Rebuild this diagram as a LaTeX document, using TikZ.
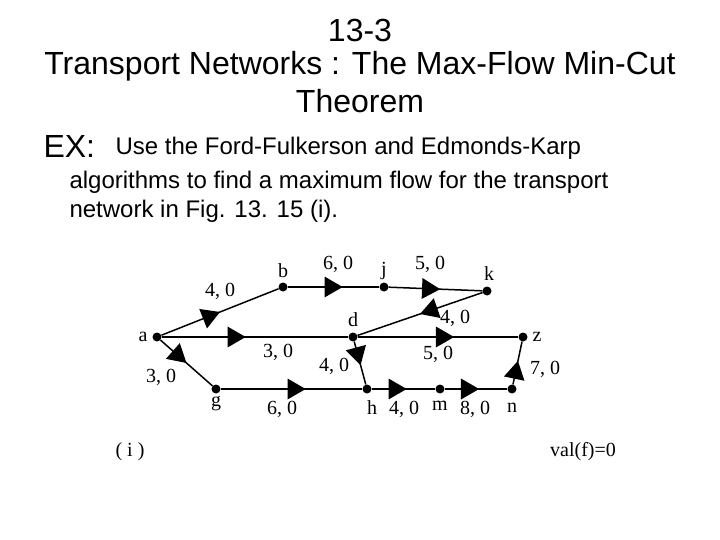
\documentclass[tikz,border=0pt]{standalone}
\usepackage{fontspec}
\setmainfont{Liberation Sans}
\newfontfamily\labfont{Liberation Serif}
\usetikzlibrary{arrows, decorations.markings}

\begin{document}
\begin{tikzpicture}[x=1pt,y=-1pt,
	vtx/.style={circle,fill=black,inner sep=0pt,minimum size=9pt},
	flow/.style={line width=1.5pt,postaction={decorate},
		decoration={markings,mark=at position #1 with {\arrow[scale=2]{triangle 60}}}},
	flow/.default=0.55,
	lab/.style={font=\labfont\fontsize{20}{20}\selectfont}]

	\useasboundingbox (0,0) rectangle (720,540);

	% heading
	\node[font=\fontsize{32}{32}\selectfont] (title1) at (360,30) {13-3};
	\node[font=\fontsize{32}{32}\selectfont] (title2) at (360,66) {Transport Networks : The Max-Flow Min-Cut};
	\node[font=\fontsize{32}{32}\selectfont] (title3) at (360,101) {Theorem};
	\node[font=\fontsize{32}{32}\selectfont,anchor=west] (ex) at (40,146) {EX:};
	\node[font=\fontsize{24}{24}\selectfont,anchor=west] (txt1) at (112,148) {Use the Ford-Fulkerson and Edmonds-Karp};
	\node[font=\fontsize{24}{24}\selectfont,anchor=west] (txt2) at (66,182) {algorithms to find a maximum flow for the transport};
	\node[font=\fontsize{24}{24}\selectfont,anchor=west] (txt3) at (66,211) {network in Fig. 13. 15 (i).};

	% vertices
	\node[vtx] (a) at (157,337) {};
	\node[vtx] (b) at (283,287) {};
	\node[vtx] (j) at (384,287) {};
	\node[vtx] (k) at (487,291) {};
	\node[vtx] (d) at (353,337) {};
	\node[vtx] (z) at (523,337) {};
	\node[vtx] (g) at (216,389) {};
	\node[vtx] (h) at (367,389) {};
	\node[vtx] (m) at (440,389) {};
	\node[vtx] (n) at (512,389) {};

	\node[lab] (la) at (143,337) {a};
	\node[lab] (lb) at (283,271) {b};
	\node[lab] (lj) at (384,271) {j};
	\node[lab] (lk) at (489,274) {k};
	\node[lab] (ld) at (353,320) {d};
	\node[lab] (lz) at (537,337) {z};
	\node[lab] (lg) at (216,404) {g};
	\node[lab] (lh) at (372,408) {h};
	\node[lab] (lm) at (440,406) {m};
	\node[lab] (ln) at (512,408) {n};

	% edges
	\draw[flow=0.5] (a) -- (b);
	\draw[flow=0.6] (b) -- (j);
	\draw[flow=0.55] (j) -- (k);
	\draw[flow=0.45] (a) -- (d);
	\draw[flow=0.5] (k) -- (d);
	\draw[flow=0.6] (d) -- (z);
	\draw[flow=0.5] (a) -- (g);
	\draw[flow=0.6] (g) -- (h);
	\draw[flow=0.55] (d) -- (h);
	\draw[flow=0.55] (h) -- (m);
	\draw[flow=0.55] (m) -- (n);
	\draw[flow=0.55] (n) -- (z);

	% capacities
	\node[lab] (cab) at (220,291) {4, 0};
	\node[lab] (cbj) at (338,264) {6, 0};
	\node[lab] (cjk) at (430,264) {5, 0};
	\node[lab] (ckd) at (455,318) {4, 0};
	\node[lab] (cad) at (278,352) {3, 0};
	\node[lab] (cdz) at (438,354) {5, 0};
	\node[lab] (cag) at (161,377) {3, 0};
	\node[lab] (cdh) at (334,366) {4, 0};
	\node[lab] (cgh) at (282,409) {6, 0};
	\node[lab] (chm) at (404,409) {4, 0};
	\node[lab] (cmn) at (475,409) {8, 0};
	\node[lab] (cnz) at (545,369) {7, 0};

	\node[lab] (cap) at (130,452) {( i )};
	\node[lab] (val) at (583,452) {val(f)=0};
\end{tikzpicture}
\end{document}
